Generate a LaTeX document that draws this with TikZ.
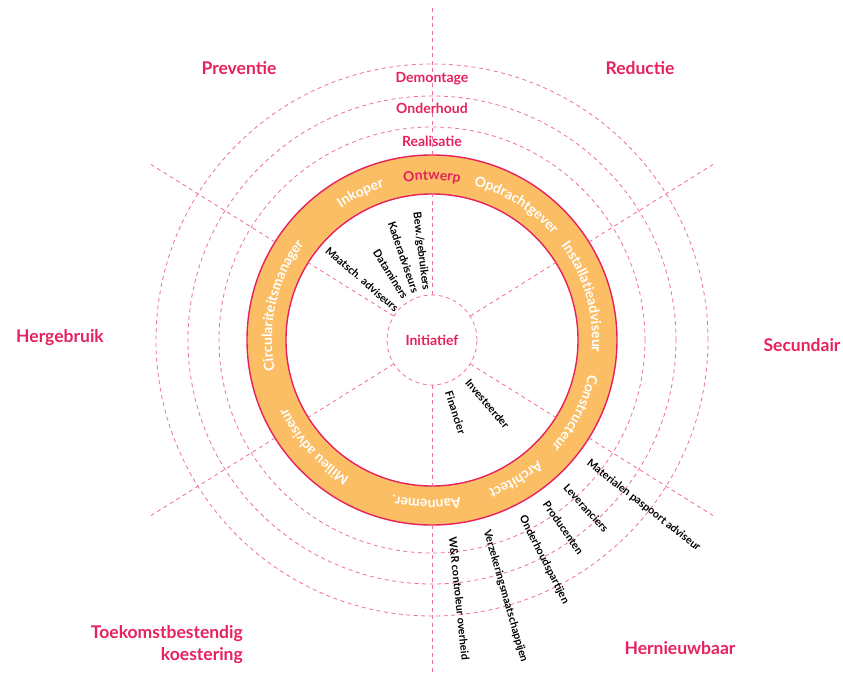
\documentclass[tikz,border=0pt]{standalone}
\usepackage{fontspec}
\setmainfont{Lato}
\usetikzlibrary{decorations.text}

\definecolor{crimson}{HTML}{E6215E}
\definecolor{ringorange}{HTML}{FBBE64}
\definecolor{guidepink}{HTML}{EE7096}

\newcommand{\ringfont}{\bfseries\fontsize{14}{16}\selectfont}
% text on the orange ring, tops outward
\newcommand{\ringlabel}[3]{%
  \path[decorate, decoration={text along path, text align=center,
      text color=#3, text={|\ringfont|#2}}]
    ({#1+45}:160) arc[start angle={#1+45}, end angle={#1-45}, radius=160];}

\begin{document}
\begin{tikzpicture}[x=1pt,y=1pt,
        guide/.style={guidepink, dash pattern=on 4pt off 3.5pt, line width=0.8pt},
        phase/.style={text=crimson, font=\bfseries\fontsize{17.5}{22}\selectfont, inner sep=0pt},
        stage/.style={text=crimson, font=\bfseries\fontsize{14}{16}\selectfont, inner sep=0pt},
        actor/.style={font=\bfseries\fontsize{10.8}{12}\selectfont, inner sep=0pt}]
        \useasboundingbox (-432,-332) rectangle (411,340);

        % dashed rings
        \draw[guide] (0,0) circle[radius=213];
        \draw[guide] (0,0) circle[radius=244];
        \draw[guide] (0,0) circle[radius=276];

        % orange ring
        \fill[ringorange, even odd rule] (0,0) circle[radius=185] (0,0) circle[radius=146];
        \draw[crimson, line width=1.4pt] (0,0) circle[radius=185];
        \draw[crimson, line width=1.4pt] (0,0) circle[radius=146];

        % centre
        \node[circle, draw=guidepink, dash pattern=on 4pt off 3.5pt, line width=0.8pt,
              minimum size=90, inner sep=0pt, stage] (ini) at (0,0) {Initiatief};

        % spokes
        \foreach \a in {32,90,148,212,270,328} {
            \draw[guide] (ini.\a) -- (\a:146);
            \draw[guide] (\a:185) -- (\a:332);
        }

        % phases
        \node[phase] (prev) at (-193,272) {Preventie};
        \node[phase] (red) at (208,272) {Reductie};
        \node[phase] (herg) at (-372,2) {Hergebruik};
        \node[phase] (sec) at (370,-5) {Secundair};
        \node[phase, align=right, anchor=east] (toek) at (-189,-305) {Toekomstbestendig\\koestering};
        \node[phase] (hern) at (248,-308) {Hernieuwbaar};

        % stages
        \node[stage] (real) at (0,199) {Realisatie};
        \node[stage] (ond) at (0,232) {Onderhoud};
        \node[stage] (dem) at (0,261) {Demontage};

        % ring roles
        \ringlabel{90}{Ontwerp}{crimson}
        \ringlabel{116}{Inkoper}{white}
        \ringlabel{58}{Opdrachtgever}{white}
        \ringlabel{16}{Installatieadviseur}{white}
        \ringlabel{-27}{Constructeur}{white}
        \ringlabel{-59}{Architect}{white}
        \ringlabel{-92}{Aannemer.}{white}
        \ringlabel{-138}{Milieu adviseur}{white}
        \ringlabel{167}{Circulariteitsmanager}{white}

        % inner actors
        \node[actor, anchor=east, rotate=277] (bew) at (97:50) {Bew./gebruikers};
        \node[actor, anchor=east, rotate=289] (kad) at (109:50) {Kaderadviseurs};
        \node[actor, anchor=east, rotate=302] (dat) at (122:50) {Dataminers};
        \node[actor, anchor=east, rotate=319] (maa) at (139:46) {Maatsch. adviseurs};
        \node[actor, anchor=west, rotate=-49] (inv) at (-49:54) {Investeerder};
        \node[actor, anchor=west, rotate=-72] (fin) at (-72:54) {Financier};

        % outer actors
        \node[actor, anchor=west, rotate=-38] (mat) at (-38:198) {Materialen paspoort adviseur};
        \node[actor, anchor=west, rotate=-47.5] (lev) at (-47.5:198) {Leveranciers};
        \node[actor, anchor=west, rotate=-55] (pro) at (-55:198) {Producenten};
        \node[actor, anchor=west, rotate=-63] (onp) at (-63:198) {Onderhoudspartijen};
        \node[actor, anchor=west, rotate=-74] (ver) at (-74:198) {Verzekeringsmaatschappijen};
        \node[actor, anchor=west, rotate=-84] (wr) at (-84:198) {W\&R controleur overheid};

      \end{tikzpicture}
\end{document}
